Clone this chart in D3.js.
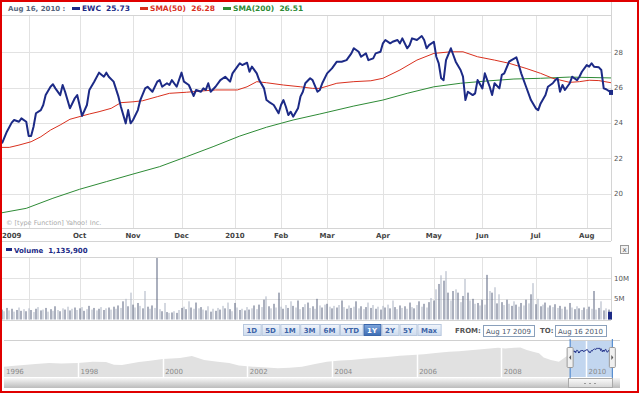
<!DOCTYPE html>
<html>
<head>
<meta charset="utf-8">
<script src="https://cdn.jsdelivr.net/npm/d3@7"></script>
<style>
body { margin: 0; background: #fff; }
svg text { font-family: "DejaVu Sans", Verdana, sans-serif; }
</style>
</head>
<body>
<script>
var asOf = "Aug 16, 2010 :";
var seriesNames = ["EWC", "SMA(50)", "SMA(200)"];
var lastValues = ["25.73", "26.28", "26.51"];
var seriesColors = ["#1c2a86", "#d9301e", "#2e8b36"];

// first trading session of each month, as an index from Aug 17 2009
var monthLabels = ["2009", "Oct", "Nov", "Dec", "2010", "Feb", "Mar", "Apr", "May", "Jun", "Jul", "Aug"];
var monthStart = [11, 32, 54, 74, 96, 115, 134, 157, 178, 198, 220, 241];
var priceTicks = [20, 22, 24, 26, 28];
var volTicks = [5, 10];
var volTickLabels = ["5M", "10M"];

// [trading day, close]
var ewc = [[0,22.85],[2,23.51],[4,24.02],[5,24.17],[7,24.07],[8,24.26],[10,24.07],[11,23.26],[12,23.26],[13,23.79],
  [14,24.55],[16,24.73],[17,25.02],[18,25.58],[20,26.05],[21,26.19],[22,25.96],[24,25.58],[25,26.15],[26,25.77],
  [28,24.83],[30,25.40],[31,25.58],[33,24.40],[35,25.02],[36,25.87],[38,26.34],[40,26.85],[42,26.62],[43,26.85],
  [44,26.62],[46,26.34],[48,25.49],[49,24.92],[51,23.98],[52,24.73],[53,23.98],[54,24.17],[56,24.73],[57,25.30],
  [59,25.96],[60,26.05],[62,25.77],[64,26.34],[65,26.43],[66,26.05],[68,26.25],[69,26.15],[70,26.43],[72,26.05],
  [74,26.85],[75,26.34],[77,26.15],[79,25.53],[80,25.87],[82,25.77],[83,25.96],[84,25.87],[85,26.25],[86,25.77],
  [88,26.05],[90,26.43],[92,26.62],[94,26.34],[95,26.81],[97,27.19],[98,27.38],[99,27.28],[101,27.41],[102,26.90],
  [103,27.19],[105,26.81],[106,26.43],[108,25.96],[109,25.30],[110,25.20],[112,25.02],[114,24.55],[115,25.02],[116,25.30],
  [117,24.92],[118,24.45],[119,24.64],[120,24.36],[122,24.83],[123,25.49],[124,25.77],[125,26.25],[127,26.53],[128,26.43],
  [130,25.77],[131,25.87],[132,26.25],[134,26.81],[136,27.09],[138,27.47],[140,27.47],[142,27.56],[144,27.94],[145,28.23],
  [147,28.03],[148,27.75],[150,27.94],[151,27.56],[153,27.66],[154,27.94],[156,28.03],[157,28.51],[158,28.70],[160,28.51],
  [161,28.60],[163,28.70],[164,28.51],[165,28.79],[167,28.23],[168,28.41],[169,28.79],[171,28.70],[173,28.92],[174,28.70],
  [175,28.23],[176,28.41],[178,28.60],[179,27.75],[180,27.38],[181,26.53],[182,26.43],[183,27.56],[185,28.23],[186,27.85],
  [187,27.47],[189,27.00],[190,26.62],[191,25.30],[192,25.77],[194,25.58],[195,25.68],[196,26.43],[198,25.96],[199,26.81],
  [200,26.43],[201,26.05],[202,25.58],[203,26.25],[205,25.96],[206,26.72],[207,26.81],[209,27.47],[210,27.56],[212,27.72],
  [213,27.28],[214,26.81],[216,26.05],[218,25.30],[220,24.83],[221,24.73],[222,25.11],[224,25.58],[225,26.05],[227,26.25],
  [228,26.43],[229,26.53],[230,25.77],[231,26.15],[232,25.87],[234,26.25],[235,26.62],[237,26.43],[238,26.62],[239,26.90],
  [241,27.28],[242,27.19],[243,27.38],[244,27.19],[246,27.15],[247,27.00],[248,25.96],[249,25.91],[251,25.73]];

var sma50 = [[0,22.62],[3,22.62],[7,22.75],[12,22.94],[16,23.22],[20,23.60],[24,23.89],[28,24.21],[33,24.40],[36,24.51],
  [40,24.64],[45,24.83],[49,25.15],[54,25.20],[58,25.26],[64,25.49],[69,25.68],[76,25.74],[82,25.81],[88,25.87],
  [97,25.87],[101,26.05],[105,26.34],[109,26.28],[116,26.15],[123,26.05],[128,25.96],[131,25.96],[138,26.25],[145,26.34],
  [152,26.39],[157,26.53],[164,27.00],[171,27.56],[178,27.94],[185,28.03],[190,28.03],[196,27.75],[203,27.56],[209,27.38],
  [216,27.09],[222,26.81],[227,26.53],[234,26.30],[238,26.34],[242,26.42],[246,26.40],[251,26.28]];

var sma200 = [[0,18.92],[10,19.17],[21,19.74],[32,20.25],[43,20.68],[54,21.11],[65,21.53],[76,22.09],[87,22.66],[98,23.26],
  [109,23.76],[120,24.17],[131,24.51],[145,24.96],[157,25.30],[167,25.68],[178,26.05],[189,26.25],[200,26.38],[211,26.49],
  [222,26.53],[234,26.60],[251,26.55]];

// daily volume, millions of shares
var volume = [2.4,2.0,2.8,2.2,2.6,1.9,2.3,2.9,2.1,2.5, 2.0,2.7,2.3,1.8,2.6,3.0,2.2,2.4,2.8,1.9,
  2.5,2.1,3.2,2.3,2.0,2.7,2.4,3.1,2.2,2.6, 2.9,2.3,2.7,3.0,2.1,2.5,3.3,2.4,2.8,2.2,
  2.6,3.0,2.3,2.7,2.9,2.4,3.1,2.6,3.4,2.8, 4.4,5.0,3.2,6.5,3.6,2.9,4.0,3.3,2.7,6.9,
  3.1,2.6,3.4,2.8,16.0,2.5,2.0,4.0,1.8,1.6, 1.7,2.0,1.6,2.3,2.8,3.1,2.5,4.4,2.9,2.6,
  4.1,2.7,3.0,2.4,2.2,3.2,1.9,2.6,2.1,2.8, 2.4,3.3,2.7,4.1,2.5,2.0,4.0,2.9,2.3,2.6,
  2.2,3.0,2.4,2.7,3.4,2.5,3.6,3.0,4.8,5.6, 3.2,2.7,3.8,2.9,6.5,3.1,2.6,3.5,2.8,4.4,
  3.3,2.9,4.6,2.5,3.0,3.7,4.1,2.8,3.2,2.6, 5.0,3.4,2.9,3.6,3.8,3.1,2.7,3.3,2.9,3.5,
  4.6,3.0,2.6,3.4,2.8,3.1,4.4,2.7,3.2,2.5, 3.0,4.1,2.8,3.5,2.6,3.1,2.4,3.3,2.9,3.6,
  2.7,4.6,3.0,2.5,3.4,2.8,3.2,2.6,4.1,3.0, 2.7,3.5,4.4,3.1,3.8,2.9,4.2,5.2,4.6,7.3,
  8.6,10.7,9.4,11.7,6.5,4.6,6.9,7.3,6.5,4.2, 5.7,9.8,6.5,4.6,5.0,3.8,4.0,3.4,4.8,3.6,
  10.8,6.9,6.5,7.8,3.9,6.1,4.2,3.5,4.8,3.8, 3.3,4.4,3.6,3.1,4.0,3.4,4.8,3.9,6.1,8.8,
  3.7,5.0,3.2,3.6,4.1,2.9,3.4,3.0,3.7,2.8, 3.3,2.6,3.1,2.4,4.0,2.9,2.5,3.2,2.7,2.3,
  2.9,2.5,3.1,2.6,6.9,2.4,2.8,4.4,2.2,2.7, 2.4,1.14];
var lastVolume = "1,135,900";

var rangeButtons = ["1D", "5D", "1M", "3M", "6M", "YTD", "1Y", "2Y", "5Y", "Max"];
var selectedButton = "1Y";
var fromDate = "Aug 17 2009", toDate = "Aug 16 2010";

// navigator: long history [year, price]
var navYears = [1996, 1998, 2000, 2002, 2004, 2006, 2008, 2010];
var navHistory = [[1996.25,10.3],[1996.5,11.2],[1996.72,12.0],[1997.0,13.1],[1997.32,14.0],[1997.6,13.6],[1998.0,14.0],
  [1998.35,15.2],[1998.66,15.0],[1998.85,12.3],[1999.04,12.0],[1999.44,15.0],[1999.7,16.2],[2000.0,18.0],[2000.41,19.0],
  [2000.69,21.0],[2000.98,17.0],[2001.3,15.2],[2001.57,14.0],[2001.8,11.5],[2002.13,10.3],[2002.45,9.6],[2002.72,8.7],
  [2003.0,9.2],[2003.29,10.3],[2003.6,13.0],[2003.88,15.3],[2004.2,16.4],[2004.45,17.0],[2004.75,18.2],[2005.04,19.3],
  [2005.3,20.1],[2005.6,21.3],[2005.9,22.0],[2006.17,22.7],[2006.45,24.0],[2006.76,25.3],[2007.0,25.8],[2007.33,27.0],
  [2007.6,28.0],[2007.92,29.3],[2008.1,28.6],[2008.3,29.3],[2008.45,29.6],[2008.6,27.0],[2008.75,25.2],[2008.89,23.7],
  [2009.0,19.5],[2009.17,17.0],[2009.36,15.3],[2009.5,19.5],[2009.59,22.0],[2009.85,26.0],[2010.1,26.3],[2010.35,28.4],
  [2010.61,27.0]];
var navRange = [2009.625, 2010.622];
var copyright = "\u00a9 [type Function] Yahoo! Inc.";

// ---- layout ----
var W = 640, H = 394;
var gridColor = "#e2e2e2", lineGray = "#d4d4d4", labelColor = "#444";
var legendX = [72, 140, 223];

var x = d3.scaleLinear().domain([0, 251]).range([2, 611]);
var y = d3.scaleLinear().domain([18, 30]).range([229, 17]);
var yVol = d3.scaleLinear().domain([0, 15]).range([319.5, 257.5]);
var xNav = d3.scaleLinear().domain([1998, 2010]).range([78, 586]);
var yNav = d3.scaleLinear().domain([0, 36]).range([377, 341]);

var svg = d3.select('body').append('svg')
    .attr('width', W)
    .attr('height', H);

var defs = svg.append('defs');
function grad(id, c1, c2) {
    var g = defs.append('linearGradient').attr('id', id)
        .attr('x1', 0).attr('y1', 0).attr('x2', 0).attr('y2', 1);
    g.append('stop').attr('offset', '0%').attr('stop-color', c1);
    g.append('stop').attr('offset', '100%').attr('stop-color', c2);
}
grad('btn', '#f1f5fb', '#cddbee');
grad('btnSel', '#7fa6dc', '#3c6cb3');
grad('scroll', '#f6f6f6', '#bcbcbc');
grad('thumb', '#fbfbfb', '#d6d6d6');

svg.append('rect').attr('width', W).attr('height', H).attr('fill', '#fff');

// grid: main plot and volume panel
var grid = svg.append('g');
monthStart.forEach(function (i) {
    var gx = Math.round(x(i)) + 0.5;
    grid.append('line').attr('x1', gx).attr('x2', gx).attr('y1', 16).attr('y2', 228)
        .attr('stroke', gridColor);
    grid.append('line').attr('x1', gx).attr('x2', gx).attr('y1', 258).attr('y2', 320)
        .attr('stroke', gridColor);
});
priceTicks.forEach(function (v) {
    var gy = Math.round(y(v)) + 0.5;
    grid.append('line').attr('x1', 2).attr('x2', 611).attr('y1', gy).attr('y2', gy)
        .attr('stroke', gridColor);
});
volTicks.forEach(function (v) {
    var gy = Math.round(yVol(v)) + 0.5;
    grid.append('line').attr('x1', 2).attr('x2', 611).attr('y1', gy).attr('y2', gy)
        .attr('stroke', gridColor);
});

// frame lines
[15.5, 228.5, 241.5, 257.5, 320.5].forEach(function (ly) {
    svg.append('line').attr('x1', 2).attr('x2', 611).attr('y1', ly).attr('y2', ly)
        .attr('stroke', lineGray);
});
svg.append('line').attr('x1', 611.5).attr('x2', 611.5).attr('y1', 2).attr('y2', 241).attr('stroke', lineGray);
svg.append('line').attr('x1', 611.5).attr('x2', 611.5).attr('y1', 257).attr('y2', 320).attr('stroke', lineGray);

// y axis labels
svg.selectAll('.ylab').data(priceTicks).enter().append('text')
    .attr('x', 614).attr('y', function (d) { return y(d); }).attr('dy', '0.35em')
    .attr('font-size', 7).attr('fill', '#555').text(function (d) { return d; });
svg.selectAll('.vlab').data(volTicks).enter().append('text')
    .attr('x', 614).attr('y', function (d) { return yVol(d); }).attr('dy', '0.35em')
    .attr('font-size', 7).attr('fill', '#555').text(function (d, i) { return volTickLabels[i]; });

// x axis labels (first one pinned to the left edge)
svg.selectAll('.xlab').data(monthLabels).enter().append('text')
    .attr('x', function (d, i) { return i === 0 ? 2 : x(monthStart[i]); })
    .attr('y', 238)
    .attr('text-anchor', function (d, i) { return i === 0 ? 'start' : 'middle'; })
    .attr('font-size', 7).attr('font-weight', 'bold').attr('fill', labelColor)
    .text(function (d) { return d; });

svg.append('text').attr('x', 6).attr('y', 225).attr('font-size', 6.5).attr('fill', '#aaa')
    .text(copyright);

// price lines
var line = d3.line().x(function (d) { return x(d[0]); }).y(function (d) { return y(d[1]); });
svg.append('path').datum(sma200).attr('d', line).attr('fill', 'none')
    .attr('stroke', seriesColors[2]).attr('stroke-width', 1);
svg.append('path').datum(sma50).attr('d', line).attr('fill', 'none')
    .attr('stroke', seriesColors[1]).attr('stroke-width', 1);
svg.append('path').datum(ewc).attr('d', line).attr('fill', 'none')
    .attr('stroke', seriesColors[0]).attr('stroke-width', 2).attr('stroke-linejoin', 'round');
var last = ewc[ewc.length - 1];
svg.append('rect').attr('x', x(last[0]) - 2).attr('y', y(last[1]) - 2.5)
    .attr('width', 4).attr('height', 5).attr('fill', seriesColors[0]);

// volume bars
svg.selectAll('.vol').data(volume).enter().append('rect')
    .attr('x', function (d, i) { return Math.round(x(i)) - 0.5; })
    .attr('y', function (d) { return Math.max(yVol(d), 258); })
    .attr('width', 1)
    .attr('height', function (d) { return yVol(0) - Math.max(yVol(d), 258); })
    .attr('fill', function (d, i) { return i % 2 ? '#a9b1c2' : '#56617c'; });
svg.append('rect').attr('x', x(251) - 3).attr('y', yVol(volume[251]) - 3)
    .attr('width', 4).attr('height', yVol(0) - yVol(volume[251]) + 3).attr('fill', seriesColors[0]);

// header legend
svg.append('text').attr('x', 8).attr('y', 11).attr('font-size', 7).attr('font-weight', 'bold')
    .attr('fill', '#56657c').text(asOf);
seriesNames.forEach(function (n, i) {
    var lx = legendX[i];
    svg.append('rect').attr('x', lx).attr('y', 7).attr('width', 8).attr('height', 3).attr('fill', seriesColors[i]);
    svg.append('text').attr('x', lx + 10).attr('y', 11).attr('font-size', 7.5).attr('font-weight', 'bold')
        .attr('fill', seriesColors[i]).text(n + '\u00a0\u00a0' + lastValues[i]);
});

// volume title row
svg.append('rect').attr('x', 6).attr('y', 248).attr('width', 6).attr('height', 3).attr('fill', seriesColors[0]);
svg.append('text').attr('x', 14).attr('y', 253).attr('font-size', 7).attr('font-weight', 'bold')
    .attr('fill', seriesColors[0]).text('Volume\u00a0\u00a0' + lastVolume);
svg.append('rect').attr('x', 620.5).attr('y', 245.5).attr('width', 8).attr('height', 8)
    .attr('fill', '#f2f2f2').attr('stroke', '#999');
svg.append('text').attr('x', 624.5).attr('y', 252).attr('text-anchor', 'middle').attr('font-size', 7)
    .attr('fill', '#555').text('x');

// range buttons
var bx = 243;
rangeButtons.forEach(function (b) {
    var g = svg.append('g');
    var r = g.append('rect');
    var sel = b === selectedButton;
    var t = g.append('text').attr('x', bx + 3.5).attr('y', 333).attr('font-size', 7).attr('font-weight', 'bold')
        .attr('fill', sel ? '#fff' : '#3d64a8').text(b);
    var w = t.node().getComputedTextLength() + 7;
    r.attr('x', bx + 0.5).attr('y', 324.5).attr('width', w).attr('height', 11)
        .attr('fill', sel ? 'url(#btnSel)' : 'url(#btn)').attr('stroke', sel ? '#3a66aa' : '#b8c8de');
    bx += w + 1;
});

// from / to inputs
svg.append('text').attr('x', 455).attr('y', 333).attr('font-size', 7).attr('font-weight', 'bold')
    .attr('fill', '#555').text('FROM:');
svg.append('rect').attr('x', 483.5).attr('y', 325.5).attr('width', 51).attr('height', 11)
    .attr('fill', '#fff').attr('stroke', '#8aa0bb');
svg.append('text').attr('x', 486).attr('y', 333.5).attr('font-size', 7).attr('fill', '#4d5a6e').text(fromDate);
svg.append('text').attr('x', 540).attr('y', 333).attr('font-size', 7).attr('font-weight', 'bold')
    .attr('fill', '#555').text('TO:');
svg.append('rect').attr('x', 555.5).attr('y', 325.5).attr('width', 51).attr('height', 11)
    .attr('fill', '#fff').attr('stroke', '#8aa0bb');
svg.append('text').attr('x', 558).attr('y', 333.5).attr('font-size', 7).attr('fill', '#4d5a6e').text(toDate);

// navigator
svg.append('line').attr('x1', 4).attr('x2', 620).attr('y1', 340.5).attr('y2', 340.5).attr('stroke', '#d0d0d0');
var area = d3.area().x(function (d) { return xNav(d[0]); }).y0(377).y1(function (d) { return yNav(d[1]); });
svg.append('path').datum(navHistory).attr('d', area).attr('fill', '#e1e1e1');
var s0 = xNav(navRange[0]), s1 = xNav(navRange[1]);
svg.append('rect').attr('x', s0).attr('y', 341).attr('width', s1 - s0).attr('height', 36)
    .attr('fill', '#c2d6ef');
navYears.forEach(function (yr) {
    var nx = Math.round(xNav(yr)) + 0.5;
    if (yr > navYears[0]) {
        svg.append('line').attr('x1', nx).attr('x2', nx).attr('y1', 341).attr('y2', 377)
            .attr('stroke', '#fff').attr('stroke-width', 1.5);
    }
    svg.append('text').attr('x', Math.max(xNav(yr) + 2.5, 6)).attr('y', 374).attr('font-size', 7)
        .attr('fill', '#8a8a8a').text(yr);
});
var navLine = d3.line()
    .x(function (d) { return xNav(navRange[0] + d[0] / 251 * (navRange[1] - navRange[0])); })
    .y(function (d) { return yNav(d[1]); });
svg.append('path').datum(ewc).attr('d', navLine).attr('fill', 'none').attr('stroke', seriesColors[0]).attr('stroke-width', 1);
[s0, s1].forEach(function (sx, k) {
    svg.append('line').attr('x1', sx).attr('x2', sx).attr('y1', 339).attr('y2', 378)
        .attr('stroke', '#3d7cc9').attr('stroke-width', 1);
    svg.append('rect').attr('x', sx - 3).attr('y', 347.5).attr('width', 6).attr('height', 20).attr('rx', 1)
        .attr('fill', '#f0f0f0').attr('stroke', '#999');
    var c = k === 0 ? -1 : 1;
    svg.append('path').attr('d', 'M' + (sx - c) + ',355L' + (sx + c) + ',357.5L' + (sx - c) + ',360Z')
        .attr('fill', '#555');
});
svg.append('rect').attr('x', 4).attr('y', 378).attr('width', 616).attr('height', 10).attr('fill', 'url(#scroll)');
svg.append('rect').attr('x', 568.5).attr('y', 378.5).attr('width', 44).attr('height', 9)
    .attr('fill', 'url(#thumb)').attr('stroke', '#aaa');
[584, 589, 594].forEach(function (gx) {
    svg.append('line').attr('x1', gx).attr('x2', gx + 2).attr('y1', 383.5).attr('y2', 383.5).attr('stroke', '#999');
});

// red outline
svg.append('rect').attr('x', 1).attr('y', 1).attr('width', 637).attr('height', 391)
    .attr('fill', 'none').attr('stroke', '#e00000').attr('stroke-width', 2);
</script>
</body>
</html>
